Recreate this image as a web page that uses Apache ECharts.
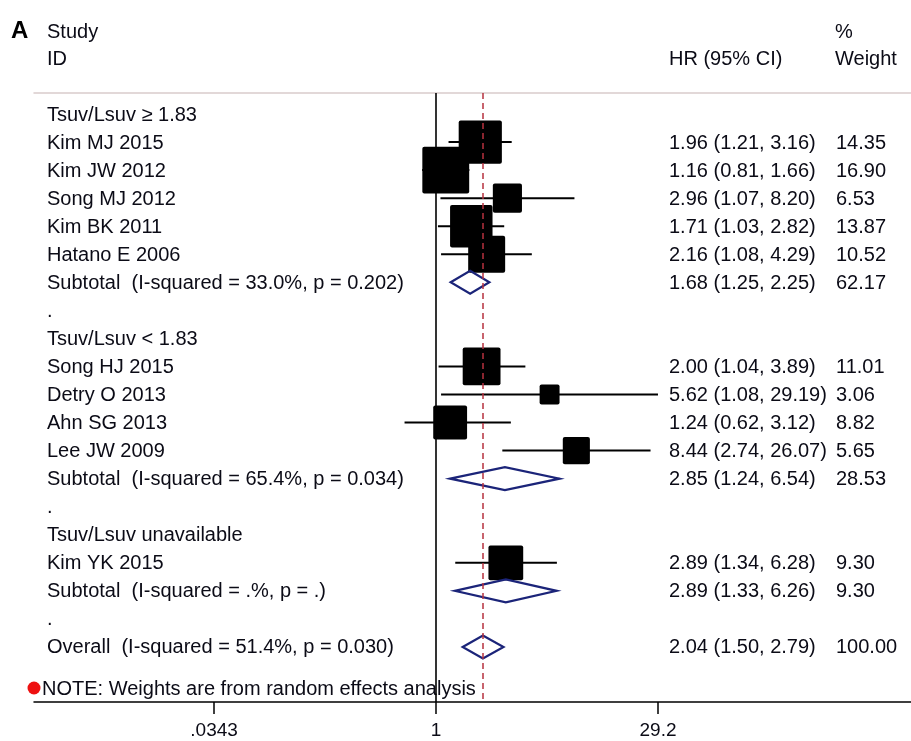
<!DOCTYPE html>
<html><head><meta charset="utf-8">
<script src="https://cdn.jsdelivr.net/npm/echarts@6/dist/echarts.min.js"></script>
<style>html,body{margin:0;padding:0;background:#fff}#c{width:911px;height:741px}</style>
</head><body><div id="c"></div>
<script>
// ---- data ----
const rowLabels = ['Tsuv/Lsuv \u2265 1.83','Kim MJ 2015','Kim JW 2012','Song MJ 2012','Kim BK 2011','Hatano E 2006',
  'Subtotal  (I-squared = 33.0%, p = 0.202)','.','Tsuv/Lsuv < 1.83','Song HJ 2015','Detry O 2013','Ahn SG 2013','Lee JW 2009',
  'Subtotal  (I-squared = 65.4%, p = 0.034)','.','Tsuv/Lsuv unavailable','Kim YK 2015','Subtotal  (I-squared = .%, p = .)','.',
  'Overall  (I-squared = 51.4%, p = 0.030)'];
const rowKinds = ['group','study','study','study','study','study','subtotal','dot','group','study','study','study','study',
  'subtotal','dot','group','study','subtotal','dot','overall'];
const hrValues = [null,1.96,1.16,2.96,1.71,2.16,1.68,null,null,2.00,5.62,1.24,8.44,2.85,null,null,2.89,2.89,null,2.04];
const ciLower  = [null,1.21,0.81,1.07,1.03,1.08,1.25,null,null,1.04,1.08,0.62,2.74,1.24,null,null,1.34,1.33,null,1.50];
const ciUpper  = [null,3.16,1.66,8.20,2.82,4.29,2.25,null,null,3.89,29.19,3.12,26.07,6.54,null,null,6.28,6.26,null,2.79];
const weights  = [null,14.35,16.90,6.53,13.87,10.52,62.17,null,null,11.01,3.06,8.82,5.65,28.53,null,null,9.30,9.30,null,100.00];
const tickValues = [0.0343, 1, 29.2];
const tickLabels = ['.0343', '1', '29.2'];
const nullEffect = 1;
const overallEffect = 2.04;

// ---- layout / style ----
const FONT = '"Liberation Sans", Arial, sans-serif';
const FS = 20;
const TXT = '#0b0b16';
const NAVY = '#1b2479';
const lg = v => Math.log10(v);
const PX_PER_DEC = 151.5, X_ZERO = 436, GL = 34, GW = 911 - 34;
const xMin = (GL - X_ZERO) / PX_PER_DEC, xMax = (GL + GW - X_ZERO) / PX_PER_DEC;
const ROW0 = 114, ROWH = 28.05, GT = 93, GB = 702;
const yMin = (GT - ROW0) / ROWH, yMax = (GB - ROW0) / ROWH;

const studyData = [], diamondData = [], textData = [];
rowKinds.forEach((k, i) => {
  textData.push([0, i]);
  if (k === 'study') studyData.push([lg(hrValues[i]), i, lg(ciLower[i]), lg(ciUpper[i]), weights[i]]);
  if (k === 'subtotal' || k === 'overall') diamondData.push([lg(hrValues[i]), i, lg(ciLower[i]), lg(ciUpper[i])]);
});
const tickLogs = tickValues.map(lg);

const chart = echarts.init(document.getElementById('c'), null, {renderer: 'canvas'});
chart.setOption({
  backgroundColor: '#fff',
  animation: false,
  grid: {left: GL, width: GW, top: GT, height: GB - GT, containLabel: false, outerBoundsMode: 'none'},
  xAxis: [{
    type: 'value', min: xMin, max: xMax, position: 'bottom',
    axisLine: {show: true, onZero: false, lineStyle: {color: '#000', width: 1.5}},
    axisTick: {show: true, customValues: tickLogs, length: 12, inside: false, lineStyle: {color: '#000', width: 1.5}},
    axisLabel: {show: true, customValues: tickLogs, margin: 19, fontSize: 19, fontFamily: FONT, color: TXT,
      formatter: v => { const j = tickLogs.findIndex(t => Math.abs(t - v) < 1e-6); return j >= 0 ? tickLabels[j] : ''; }},
    splitLine: {show: false}
  }, {
    type: 'value', min: xMin, max: xMax, position: 'top',
    axisLine: {show: true, onZero: false, lineStyle: {color: '#d9cbcb', width: 1.5}},
    axisTick: {show: false}, axisLabel: {show: false}, splitLine: {show: false}
  }],
  yAxis: {type: 'value', inverse: true, min: yMin, max: yMax, show: false},
  graphic: [
    {type: 'text', x: 11, y: 31, style: {text: 'A', font: 'bold 24px ' + FONT, fill: '#000', verticalAlign: 'middle'}},
    {type: 'text', x: 47, y: 32, style: {text: 'Study', font: FS + 'px ' + FONT, fill: TXT, verticalAlign: 'middle'}},
    {type: 'text', x: 47, y: 59, style: {text: 'ID', font: FS + 'px ' + FONT, fill: TXT, verticalAlign: 'middle'}},
    {type: 'text', x: 669, y: 59, style: {text: 'HR (95% CI)', font: FS + 'px ' + FONT, fill: TXT, verticalAlign: 'middle'}},
    {type: 'text', x: 835, y: 32, style: {text: '%', font: FS + 'px ' + FONT, fill: TXT, verticalAlign: 'middle'}},
    {type: 'text', x: 835, y: 59, style: {text: 'Weight', font: FS + 'px ' + FONT, fill: TXT, verticalAlign: 'middle'}},
    {type: 'circle', shape: {cx: 34, cy: 688, r: 6.5}, style: {fill: '#ee1111'}},
    {type: 'text', x: 42, y: 689, style: {text: 'NOTE: Weights are from random effects analysis', font: FS + 'px ' + FONT, fill: TXT, verticalAlign: 'middle'}}
  ],
  series: [
    {
      type: 'scatter', data: [], z: 1, silent: true,
      markLine: {
        symbol: 'none', silent: true, label: {show: false}, animation: false,
        data: [
          {xAxis: lg(nullEffect), lineStyle: {color: '#000', type: 'solid', width: 1.6}},
          {xAxis: lg(overallEffect), lineStyle: {color: '#b7323f', type: [6, 4], width: 1.5}}
        ]
      }
    },
    {
      type: 'custom', z: 3, data: studyData, silent: true,
      renderItem: (p, api) => {
        const row = api.value(1);
        const c = api.coord([api.value(0), row]);
        const lo = api.coord([api.value(2), row]);
        const hi = api.coord([api.value(3), row]);
        const s = 11.4 * Math.sqrt(api.value(4));
        return {type: 'group', children: [
          {type: 'line', shape: {x1: lo[0], y1: c[1], x2: hi[0], y2: c[1]}, style: {stroke: '#000', lineWidth: 2}},
          {type: 'rect', shape: {x: c[0] - s / 2, y: c[1] - s / 2, width: s, height: s, r: 2}, style: {fill: '#000'}}
        ]};
      }
    },
    {
      type: 'custom', z: 3, data: diamondData, silent: true,
      renderItem: (p, api) => {
        const row = api.value(1);
        const c = api.coord([api.value(0), row]);
        const lo = api.coord([api.value(2), row]);
        const hi = api.coord([api.value(3), row]);
        const h = 11.5;
        return {type: 'polygon', shape: {points: [[lo[0], c[1]], [c[0], c[1] - h], [hi[0], c[1]], [c[0], c[1] + h]]},
          style: {fill: 'none', stroke: NAVY, lineWidth: 2.2}};
      }
    },
    {
      type: 'custom', z: 4, data: textData, silent: true, clip: false,
      renderItem: (p, api) => {
        const i = p.dataIndex;
        const y = api.coord([0, api.value(1)])[1] + 1;
        const ch = [{type: 'text', x: 47, y: y, style: {text: rowLabels[i], font: FS + 'px ' + FONT, fill: TXT, verticalAlign: 'middle'}}];
        if (hrValues[i] != null) {
          ch.push({type: 'text', x: 669, y: y, style: {text: hrValues[i].toFixed(2) + ' (' + ciLower[i].toFixed(2) + ', ' + ciUpper[i].toFixed(2) + ')', font: FS + 'px ' + FONT, fill: TXT, verticalAlign: 'middle'}});
          ch.push({type: 'text', x: 836, y: y, style: {text: weights[i].toFixed(2), font: FS + 'px ' + FONT, fill: TXT, verticalAlign: 'middle'}});
        }
        return {type: 'group', children: ch};
      }
    }
  ]
});
</script></body></html>
